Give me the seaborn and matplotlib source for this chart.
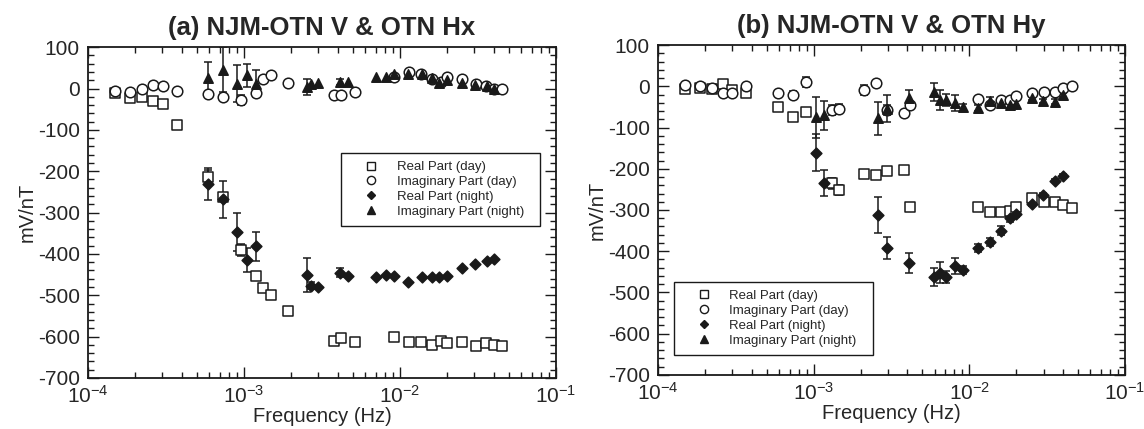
import numpy as np
import pandas as pd
import matplotlib
matplotlib.use("Agg")
import matplotlib.pyplot as plt
import seaborn as sns
from matplotlib.lines import Line2D
from matplotlib.ticker import LogLocator, MultipleLocator, NullFormatter, FuncFormatter

# ---------------- panel (a): NJM-OTN V & OTN Hx ----------------
a_day_freq = [1.5e-4, 1.87e-4, 2.22e-4, 2.62e-4, 3.02e-4, 3.7e-4, 5.92e-4, 7.37e-4,
              9.6e-4, 1.19e-3, 1.33e-3, 1.48e-3, 1.92e-3, 3.8e-3, 4.2e-3, 5.15e-3,
              9.17e-3, 1.15e-2, 1.37e-2, 1.61e-2, 1.82e-2, 2.01e-2, 2.51e-2, 3.05e-2,
              3.57e-2, 4.0e-2, 4.52e-2]
a_day_real = [-10, -22, -20, -30, -38, -88, -215, -262, -390, -453, -483, -499, -539,
              -610, -604, -613, -601, -613, -613, -620, -610, -616, -613, -622, -616,
              -620, -622]
a_day_real_err = [0, 0, 0, 0, 0, 0, 18, 10, 14, 0, 0, 0, 0,
                  0, 0, 0, 0, 0, 0, 0, 0, 0, 0, 0, 0, 0, 0]
a_day_imag = [-6, -8, -2, 8, 6, -6, -14, -20, -28, -12, 22, 32, 14, -16, -16, -8,
              28, 39, 34, 22, 16, 28, 22, 12, 6, -2, -1]
a_day_imag_err = [0, 0, 0, 8, 0, 0, 0, 0, 12, 0, 0, 0, 0, 0, 0, 0,
                  0, 0, 0, 0, 0, 0, 0, 0, 0, 0, 0]

a_night_freq = [5.9e-4, 7.37e-4, 8.98e-4, 1.05e-3, 1.19e-3, 2.52e-3, 2.67e-3, 2.99e-3,
                4.12e-3, 4.67e-3, 7.02e-3, 8.13e-3, 9.16e-3, 1.13e-2, 1.38e-2, 1.6e-2,
                1.79e-2, 1.99e-2, 2.51e-2, 3.03e-2, 3.59e-2, 4.0e-2]
a_night_real = [-231, -268, -346, -415, -382, -451, -477, -479, -445, -453, -455, -452,
                -453, -468, -455, -455, -456, -453, -435, -424, -418, -413]
a_night_real_err = [38, 44, 46, 29, 35, 40, 8, 0, 10, 0, 0, 0,
                    0, 0, 0, 0, 0, 0, 0, 0, 0, 0]
a_night_imag = [26, 46, 12, 32, 12, 4, 12, 14, 16, 16, 28, 27, 36, 36, 34, 26,
                14, 20, 14, 8, 6, 0]
a_night_imag_err = [37, 55, 45, 28, 32, 20, 0, 0, 8, 0, 0, 0, 0, 0, 0, 0,
                    0, 0, 0, 0, 0, 0]

# ---------------- panel (b): NJM-OTN V & OTN Hy ----------------
b_day_freq = [1.49e-4, 1.86e-4, 2.21e-4, 2.6e-4, 3.0e-4, 3.67e-4, 5.88e-4, 7.33e-4,
              8.9e-4, 1.32e-3, 1.46e-3, 2.09e-3, 2.5e-3, 2.97e-3, 3.83e-3, 4.18e-3,
              1.14e-2, 1.36e-2, 1.59e-2, 1.82e-2, 1.98e-2, 2.51e-2, 3.01e-2, 3.55e-2,
              4.01e-2, 4.54e-2]
b_day_real = [-7, -5, -7, 5, -9, -16, -51, -74, -62, -235, -252, -213, -216, -205,
              -203, -292, -292, -306, -306, -302, -292, -272, -281, -281, -288, -294]
b_day_real_err = [0, 0, 0, 0, 0, 0, 0, 0, 10, 13, 12, 10, 10, 0,
                  0, 8, 0, 0, 0, 0, 0, 0, 0, 0, 0, 0]
b_day_imag = [3, 1, -5, -16, -16, 1, -16, -21, 11, -58, -54, -10, 7, -58, -64, -45,
              -32, -45, -33, -33, -23, -17, -13, -13, -3, 1]
b_day_imag_err = [0, 0, 0, 0, 0, 0, 0, 10, 12, 12, 12, 12, 0, 12, 0, 0,
                  0, 0, 0, 0, 0, 0, 0, 0, 0, 0]

b_night_freq = [1.04e-3, 1.17e-3, 2.6e-3, 2.95e-3, 4.11e-3, 5.9e-3, 6.47e-3, 7.08e-3,
                8.13e-3, 9.15e-3, 1.14e-2, 1.36e-2, 1.59e-2, 1.82e-2, 1.98e-2, 2.51e-2,
                2.99e-2, 3.55e-2, 4.01e-2]
b_night_real = [-161, -235, -312, -393, -429, -462, -452, -462, -436, -445, -393, -377,
                -350, -320, -310, -286, -264, -229, -218]
b_night_real_err = [45, 32, 44, 27, 24, 22, 25, 14, 19, 10, 10, 10, 10, 8, 8, 5, 5, 4, 5]
b_night_imag = [-75, -70, -78, -54, -29, -13, -33, -33, -40, -51, -53, -35, -40, -45,
                -42, -29, -35, -37, -21]
b_night_imag_err = [50, 35, 40, 32, 20, 22, 24, 15, 20, 8, 8, 8, 8, 8, 8, 5, 5, 5, 5]

series_labels = ["Real Part (day)", "Imaginary Part (day)",
                 "Real Part (night)", "Imaginary Part (night)"]
panel_titles = ["(a) NJM-OTN V & OTN Hx", "(b) NJM-OTN V & OTN Hy"]
x_label = "Frequency (Hz)"
y_label = "mV/nT"

# ---------------- styling ----------------
sns.set_theme(style="ticks")
plt.rcParams["font.family"] = ["Liberation Sans", "DejaVu Sans"]
plt.rcParams["mathtext.fontset"] = "custom"
plt.rcParams["mathtext.rm"] = "Liberation Sans"
plt.rcParams["mathtext.it"] = "Liberation Sans:italic"
plt.rcParams["mathtext.bf"] = "Liberation Sans:bold"
plt.rcParams["axes.unicode_minus"] = False

INK = "#1a1a1a"
marker_style = {
    "Real Part (day)": dict(marker="s", face="white", size=50),
    "Imaginary Part (day)": dict(marker="o", face="white", size=58),
    "Real Part (night)": dict(marker="D", face=INK, size=30),
    "Imaginary Part (night)": dict(marker="^", face=INK, size=46),
}

fig = plt.figure(figsize=(11.44, 4.29), dpi=100)
ax_a = fig.add_axes([0.0769, 0.119, 0.4091, 0.771])
ax_b = fig.add_axes([0.5752, 0.126, 0.4082, 0.769])


def build_frame(day_f, day_re, day_re_e, day_im, day_im_e,
                night_f, night_re, night_re_e, night_im, night_im_e):
    parts = [
        (day_f, day_re, day_re_e, series_labels[0]),
        (day_f, day_im, day_im_e, series_labels[1]),
        (night_f, night_re, night_re_e, series_labels[2]),
        (night_f, night_im, night_im_e, series_labels[3]),
    ]
    frames = []
    for f, v, e, lab in parts:
        frames.append(pd.DataFrame({"freq": f, "value": v, "err": e, "series": lab}))
    return pd.concat(frames, ignore_index=True)


def draw_panel(ax, df, title, legend_anchor):
    # error bars first so the markers sit on top
    for lab in series_labels:
        sub = df[(df["series"] == lab) & (df["err"] > 0)]
        if len(sub):
            ax.errorbar(sub["freq"], sub["value"], yerr=sub["err"], fmt="none",
                        ecolor=INK, elinewidth=1.1, capsize=2.6, capthick=1.1,
                        zorder=2)
    for lab in series_labels:
        st = marker_style[lab]
        sub = df[df["series"] == lab]
        sns.scatterplot(data=sub, x="freq", y="value", ax=ax, marker=st["marker"],
                        s=st["size"], color=st["face"], edgecolor=INK,
                        linewidth=1.1, zorder=3, legend=False)

    ax.set_xscale("log")
    ax.set_xlim(1e-4, 1e-1)
    ax.set_ylim(-700, 100)
    ax.xaxis.set_major_locator(LogLocator(base=10, numticks=10))
    ax.xaxis.set_minor_locator(LogLocator(base=10, subs=np.arange(2, 10), numticks=20))
    ax.xaxis.set_minor_formatter(NullFormatter())
    ax.xaxis.set_major_formatter(
        FuncFormatter(lambda v, p: r"$\mathregular{10^{%d}}$" % int(round(np.log10(v)))))
    ax.yaxis.set_major_locator(MultipleLocator(100))
    ax.yaxis.set_minor_locator(MultipleLocator(20))
    ax.yaxis.set_major_formatter(FuncFormatter(lambda v, p: "%d" % v))

    ax.tick_params(which="both", direction="in", top=True, right=True,
                   color=INK, width=1.0)
    ax.tick_params(which="major", length=8, labelsize=15, pad=6)
    ax.tick_params(which="minor", length=4)
    ax.tick_params(axis="x", which="major", pad=5)
    for sp in ax.spines.values():
        sp.set_color(INK)
        sp.set_linewidth(1.3)
        sp.set_visible(True)

    ax.set_xlabel(x_label, fontsize=14.5, labelpad=0)
    ax.set_ylabel(y_label, fontsize=14.5, labelpad=1)
    ax.set_title(title, fontsize=18.5, fontweight="bold", pad=9)

    handles = []
    for lab in series_labels:
        st = marker_style[lab]
        handles.append(Line2D([], [], linestyle="none", marker=st["marker"],
                              markersize=np.sqrt(st["size"]) * 0.78,
                              markerfacecolor=st["face"], markeredgecolor=INK,
                              markeredgewidth=1.0))
    leg = ax.legend(handles, series_labels, loc="upper left",
                    bbox_to_anchor=legend_anchor, mode="expand",
                    borderaxespad=0, fontsize=9.5, labelspacing=0.2,
                    borderpad=0.6, handlelength=3.3, handletextpad=0.3,
                    frameon=True, fancybox=False)
    frame = leg.get_frame()
    frame.set_edgecolor(INK)
    frame.set_linewidth(1.0)
    frame.set_facecolor("white")
    frame.set_alpha(1)


df_a = build_frame(a_day_freq, a_day_real, a_day_real_err, a_day_imag, a_day_imag_err,
                   a_night_freq, a_night_real, a_night_real_err, a_night_imag,
                   a_night_imag_err)
df_b = build_frame(b_day_freq, b_day_real, b_day_real_err, b_day_imag, b_day_imag_err,
                   b_night_freq, b_night_real, b_night_real_err, b_night_imag,
                   b_night_imag_err)

draw_panel(ax_a, df_a, panel_titles[0], (0.541, 0.68, 0.425, 0.0))
draw_panel(ax_b, df_b, panel_titles[1], (0.034, 0.282, 0.426, 0.0))

fig.savefig("out.png", dpi=100, facecolor="white")
